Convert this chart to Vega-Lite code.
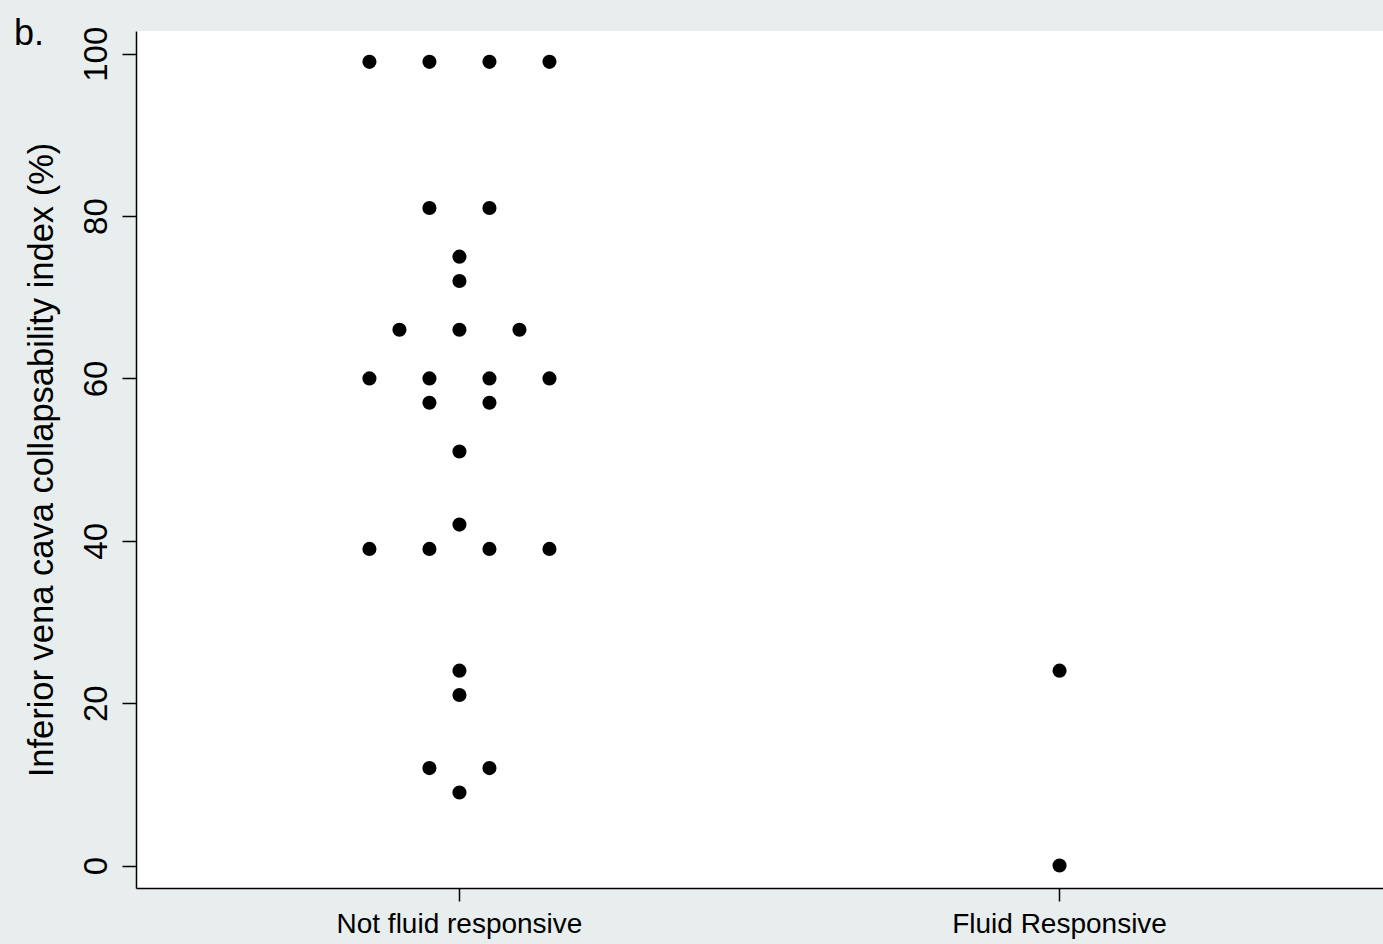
{
  "$schema": "https://vega.github.io/schema/vega-lite/v6.json",
  "width": 1247,
  "height": 857,
  "autosize": {"type": "none"},
  "padding": {"left": 136, "top": 31, "right": 0, "bottom": 56},
  "background": "#e8eded",
  "view": {"fill": "white", "stroke": null},
  "title": {
    "text": "b.",
    "anchor": "start",
    "frame": "bounds",
    "font": "Liberation Sans",
    "fontSize": 36,
    "fontWeight": "normal",
    "color": "black",
    "baseline": "alphabetic",
    "offset": 0,
    "dy": 55,
    "dx": -10
  },
  "config": {
    "axis": {
      "domainColor": "black",
      "domainWidth": 1.5,
      "tickColor": "black",
      "tickWidth": 1.5,
      "labelColor": "black",
      "titleColor": "black",
      "labelFont": "Liberation Sans",
      "titleFont": "Liberation Sans",
      "grid": false
    }
  },
  "data": {
    "values": [
      {"group": "Not fluid responsive", "slot": -3, "ivc": 99},
      {"group": "Not fluid responsive", "slot": -1, "ivc": 99},
      {"group": "Not fluid responsive", "slot": 1, "ivc": 99},
      {"group": "Not fluid responsive", "slot": 3, "ivc": 99},
      {"group": "Not fluid responsive", "slot": -1, "ivc": 81},
      {"group": "Not fluid responsive", "slot": 1, "ivc": 81},
      {"group": "Not fluid responsive", "slot": 0, "ivc": 75},
      {"group": "Not fluid responsive", "slot": 0, "ivc": 72},
      {"group": "Not fluid responsive", "slot": -2, "ivc": 66},
      {"group": "Not fluid responsive", "slot": 0, "ivc": 66},
      {"group": "Not fluid responsive", "slot": 2, "ivc": 66},
      {"group": "Not fluid responsive", "slot": -3, "ivc": 60},
      {"group": "Not fluid responsive", "slot": -1, "ivc": 60},
      {"group": "Not fluid responsive", "slot": 1, "ivc": 60},
      {"group": "Not fluid responsive", "slot": 3, "ivc": 60},
      {"group": "Not fluid responsive", "slot": -1, "ivc": 57},
      {"group": "Not fluid responsive", "slot": 1, "ivc": 57},
      {"group": "Not fluid responsive", "slot": 0, "ivc": 51},
      {"group": "Not fluid responsive", "slot": 0, "ivc": 42},
      {"group": "Not fluid responsive", "slot": -3, "ivc": 39},
      {"group": "Not fluid responsive", "slot": -1, "ivc": 39},
      {"group": "Not fluid responsive", "slot": 1, "ivc": 39},
      {"group": "Not fluid responsive", "slot": 3, "ivc": 39},
      {"group": "Not fluid responsive", "slot": 0, "ivc": 24},
      {"group": "Not fluid responsive", "slot": 0, "ivc": 21},
      {"group": "Not fluid responsive", "slot": -1, "ivc": 12},
      {"group": "Not fluid responsive", "slot": 1, "ivc": 12},
      {"group": "Not fluid responsive", "slot": 0, "ivc": 9},
      {"group": "Fluid Responsive", "slot": 0, "ivc": 24},
      {"group": "Fluid Responsive", "slot": 0, "ivc": 0}
    ]
  },
  "mark": {"type": "circle", "color": "black", "opacity": 1, "size": 200},
  "encoding": {
    "x": {
      "field": "group",
      "type": "nominal",
      "sort": ["Not fluid responsive", "Fluid Responsive"],
      "scale": {"type": "band", "paddingInner": 0, "paddingOuter": 0.039},
      "axis": {
        "title": null,
        "labelAngle": 0,
        "labelFontSize": 28,
        "labelLimit": 0,
        "tickSize": 13,
        "labelPadding": 9
      }
    },
    "xOffset": {
      "field": "slot",
      "type": "ordinal",
      "scale": {
        "type": "point",
        "domain": [-10, -9, -8, -7, -6, -5, -4, -3, -2, -1, 0, 1, 2, 3, 4, 5, 6, 7, 8, 9, 10],
        "padding": 0
      }
    },
    "y": {
      "field": "ivc",
      "type": "quantitative",
      "scale": {"domain": [-2.77, 102.8], "nice": false, "zero": false},
      "axis": {
        "title": "Inferior vena cava collapsability index (%)",
        "values": [0, 20, 40, 60, 80, 100],
        "labelAngle": -90,
        "labelAlign": "center",
        "labelBaseline": "bottom",
        "labelFontSize": 33,
        "labelPadding": 9,
        "tickSize": 14,
        "titleFontSize": 34.5,
        "titleFontWeight": "normal",
        "titlePadding": 21
      }
    }
  }
}
